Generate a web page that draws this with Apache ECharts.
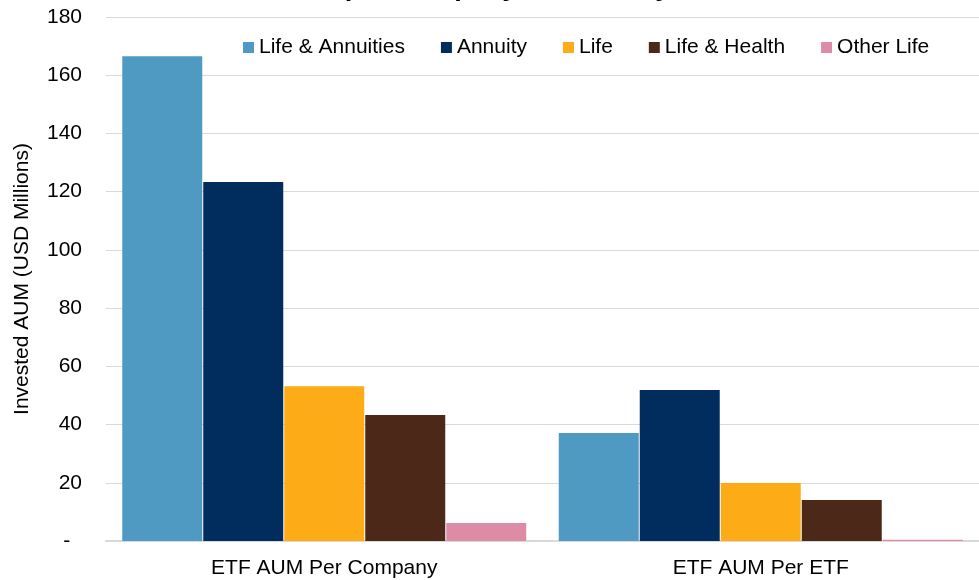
<!DOCTYPE html>
<html>
<head>
<meta charset="utf-8">
<script src="https://cdn.jsdelivr.net/npm/echarts@6/dist/echarts.min.js"></script>
<style>
    html, body { margin: 0; padding: 0; background: #fff; }
    #chart { width: 979px; height: 580px; }
</style>
</head>
<body>
<div id="chart"></div>
<script>
    // data
    var categories = ['ETF AUM Per Company', 'ETF AUM Per ETF'];
    var seriesNames = ['Life & Annuities', 'Annuity', 'Life', 'Life & Health', 'Other Life'];
    var lifeAnnuities = [166.5, 37.1];
    var annuity = [123.3, 51.9];
    var life = [53.2, 19.9];
    var lifeHealth = [43.3, 14.1];
    var otherLife = [6.2, 0.4];
    var colors = ['#4F9AC3', '#002C5E', '#FDAC18', '#4B2817', '#DE8BA6'];

    var values = [lifeAnnuities, annuity, life, lifeHealth, otherLife];

    var chartDom = document.getElementById('chart');
    var myChart = echarts.init(chartDom);
    var fontName = 'Liberation Sans, Arial, sans-serif';

    var series = seriesNames.map(function (name, i) {
        return {
            name: name,
            type: 'bar',
            data: values[i],
            barWidth: 80,
            barGap: '1.25%',
            itemStyle: { color: colors[i] }
        };
    });

    var option = {
        animation: false,
        color: colors,
        textStyle: { fontFamily: fontName },
        graphic: [{
            type: 'text',
            left: 'center',
            top: -26,
            style: {
                text: 'ETF AUM per Company and ETF by Sector',
                font: 'bold 27px ' + fontName,
                fill: '#000'
            }
        }],
        legend: {
            left: 243,
            top: 37,
            padding: 0,
            itemWidth: 11,
            itemHeight: 11,
            itemGap: 36,
            icon: 'rect',
            textStyle: { fontSize: 21, color: '#000' },
            data: seriesNames
        },
        grid: { left: 106, right: 0, top: 17, bottom: 39 },
        xAxis: {
            type: 'category',
            data: categories,
            axisLine: { lineStyle: { color: '#D9D9D9', width: 2 } },
            axisTick: { show: false },
            axisLabel: { fontSize: 21, color: '#000', margin: 17 }
        },
        yAxis: {
            type: 'value',
            min: 0,
            max: 180,
            interval: 20,
            name: 'Invested AUM (USD Millions)',
            nameLocation: 'middle',
            nameGap: 73,
            nameTextStyle: { fontSize: 21, color: '#000' },
            axisLine: { show: false },
            axisTick: { show: false },
            splitLine: { lineStyle: { color: '#D9D9D9', width: 1 } },
            axisLabel: {
                fontSize: 21,
                color: '#000',
                margin: 24,
                formatter: function (v) { return v === 0 ? '-  ' : v; }
            }
        },
        series: series
    };

    option && myChart.setOption(option);
</script>
</body>
</html>
